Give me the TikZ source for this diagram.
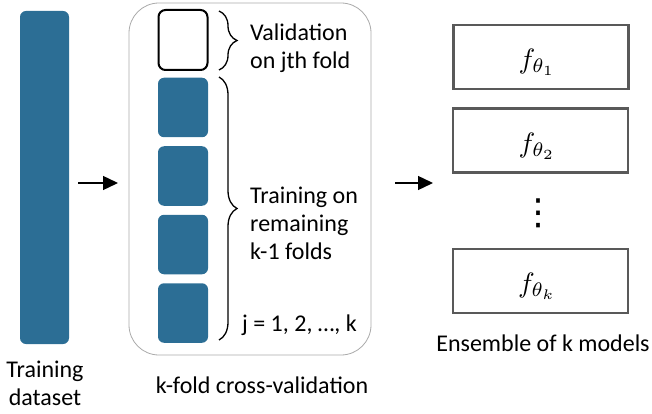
\documentclass[tikz,border=0pt]{standalone}
\usepackage{graphicx}
\usepackage{fontspec}
\setmainfont{Carlito}
\newfontfamily\dejavu{DejaVu Sans}
\usetikzlibrary{arrows.meta,decorations.pathreplacing}
\definecolor{foldblue}{RGB}{44,110,149}
\definecolor{boxgray}{RGB}{89,89,89}
\definecolor{cvgray}{RGB}{170,170,170}
\tikzset{
  fold/.style={draw=none,fill=foldblue,rounded corners=6pt,minimum width=50pt,minimum height=59.5pt,inner sep=0pt},
  valfold/.style={draw=black,line width=2pt,rounded corners=7pt,minimum width=49pt,minimum height=60pt,inner sep=0pt},
  model/.style={draw=boxgray,line width=2.5pt,minimum width=175pt,minimum height=64pt,inner sep=0pt},
  lbl/.style={inner sep=0pt,font=\fontsize{24}{28}\selectfont},
  mathlbl/.style={inner sep=0pt},
  arr/.style={line width=1.4pt,-{Triangle[length=15pt,width=14pt]}},
  brc/.style={decorate,decoration={brace,amplitude=18pt},line width=1.3pt}
}
\begin{document}
\begin{tikzpicture}[x=1pt,y=-1pt]
\useasboundingbox (0,0) rectangle (652,414);
% training dataset
\node[draw=none,fill=foldblue,rounded corners=6pt,minimum width=49pt,minimum height=333pt,inner sep=0pt] (train) at (44.5,177.5) {};
\node[lbl,align=center] (trainlbl) at (45,383) {Training\\dataset};
% cv container
\node[draw=cvgray,line width=0.8pt,rounded corners=30pt,minimum width=242pt,minimum height=352pt,inner sep=0pt] (cv) at (250,179) {};
\node[valfold] (v) at (183,40) {};
\node[fold] (f1) at (183,107.5) {};
\node[fold] (f2) at (183,176) {};
\node[fold] (f3) at (183,244.5) {};
\node[fold] (f4) at (183,313) {};
\coordinate (b1a) at (219,11);
\coordinate (b1b) at (219,70);
\coordinate (b2a) at (219,77);
\coordinate (b2b) at (219,340);
\draw[brc] (b1a) -- (b1b);
\draw[brc] (b2a) -- (b2b);
\node[lbl,anchor=west,align=left] (vlbl) at (250,48) {Validation\\on jth fold};
\node[lbl,anchor=west,align=left] (tlbl) at (250,223) {Training on\\remaining\\k-1 folds};
\node[lbl,anchor=west] (jlbl) at (242,325) {j = 1, 2, …, k};
\node[lbl] (cvlbl) at (262,385) {k-fold cross-validation};
% arrows
\coordinate (a1s) at (78,183);
\coordinate (a1e) at (118,183);
\coordinate (a2s) at (395,183);
\coordinate (a2e) at (433,183);
\draw[arr] (a1s) -- (a1e);
\draw[arr] (a2s) -- (a2e);
% models
\node[model] (m1) at (541,57) {};
\node[model] (m2) at (540.5,140.5) {};
\node[model] (mk) at (540.5,281) {};
\node[mathlbl] (t1) at (537,62) {\scalebox{2.8}{$f_{\theta_1}$}};
\node[mathlbl] (t2) at (537,146) {\scalebox{2.8}{$f_{\theta_2}$}};
\node[mathlbl] (tk) at (537,286) {\scalebox{2.8}{$f_{\theta_k}$}};
\node[inner sep=0pt,font=\dejavu\fontsize{36}{38}\selectfont] (dots) at (538,213) {⋮};
\node[lbl] (mlbl) at (543,343) {Ensemble of k models};
\end{tikzpicture}
\end{document}
